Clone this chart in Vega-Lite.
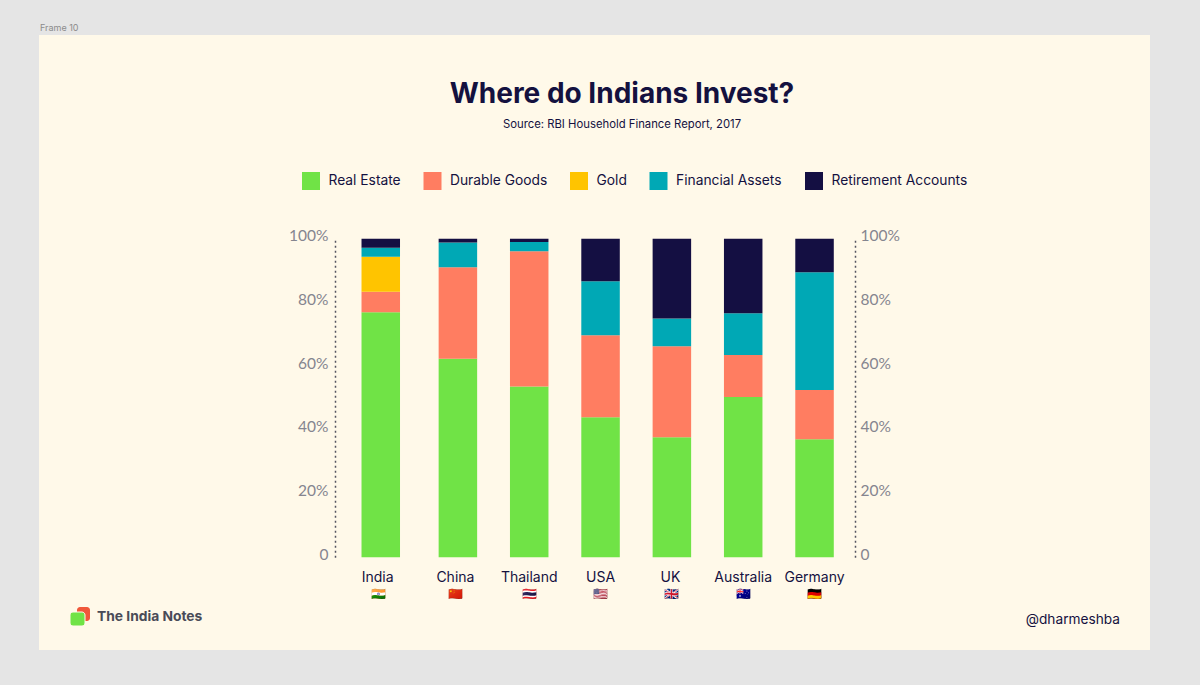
{
  "$schema": "https://vega.github.io/schema/vega-lite/v6.json",
  "width": 1111,
  "height": 615,
  "autosize": "none",
  "padding": {"left": 39, "top": 35, "right": 50, "bottom": 35},
  "background": "#e5e5e5",
  "view": {"fill": "#fff9e9", "stroke": null},
  "title": {
    "text": "Where do Indians Invest?",
    "subtitle": "Source: RBI Household Finance Report, 2017",
    "frame": "group",
    "anchor": "middle",
    "dx": 27.5,
    "offset": -106,
    "font": "Inter",
    "fontSize": 28,
    "fontWeight": 700,
    "color": "#14113f",
    "subtitleFont": "Inter",
    "subtitleFontSize": 11.3,
    "subtitleColor": "#14113f",
    "subtitlePadding": 10
  },
  "datasets": {
    "holdings": [
      {"country": "India", "asset": "Real Estate", "rank": 1, "share": 76.9},
      {"country": "India", "asset": "Durable Goods", "rank": 2, "share": 6.5},
      {"country": "India", "asset": "Gold", "rank": 3, "share": 11},
      {"country": "India", "asset": "Financial Assets", "rank": 4, "share": 2.8},
      {"country": "India", "asset": "Retirement Accounts", "rank": 5, "share": 2.8},
      {"country": "China", "asset": "Real Estate", "rank": 1, "share": 62.3},
      {"country": "China", "asset": "Durable Goods", "rank": 2, "share": 28.8},
      {"country": "China", "asset": "Financial Assets", "rank": 4, "share": 7.7},
      {"country": "China", "asset": "Retirement Accounts", "rank": 5, "share": 1.2},
      {"country": "Thailand", "asset": "Real Estate", "rank": 1, "share": 53.6},
      {"country": "Thailand", "asset": "Durable Goods", "rank": 2, "share": 42.5},
      {"country": "Thailand", "asset": "Financial Assets", "rank": 4, "share": 2.9},
      {"country": "Thailand", "asset": "Retirement Accounts", "rank": 5, "share": 1},
      {"country": "USA", "asset": "Real Estate", "rank": 1, "share": 44},
      {"country": "USA", "asset": "Durable Goods", "rank": 2, "share": 25.7},
      {"country": "USA", "asset": "Financial Assets", "rank": 4, "share": 17},
      {"country": "USA", "asset": "Retirement Accounts", "rank": 5, "share": 13.3},
      {"country": "UK", "asset": "Real Estate", "rank": 1, "share": 37.7},
      {"country": "UK", "asset": "Durable Goods", "rank": 2, "share": 28.6},
      {"country": "UK", "asset": "Financial Assets", "rank": 4, "share": 8.7},
      {"country": "UK", "asset": "Retirement Accounts", "rank": 5, "share": 25},
      {"country": "Australia", "asset": "Real Estate", "rank": 1, "share": 50.3},
      {"country": "Australia", "asset": "Durable Goods", "rank": 2, "share": 13.2},
      {"country": "Australia", "asset": "Financial Assets", "rank": 4, "share": 13.1},
      {"country": "Australia", "asset": "Retirement Accounts", "rank": 5, "share": 23.4},
      {"country": "Germany", "asset": "Real Estate", "rank": 1, "share": 37.1},
      {"country": "Germany", "asset": "Durable Goods", "rank": 2, "share": 15.4},
      {"country": "Germany", "asset": "Financial Assets", "rank": 4, "share": 37},
      {"country": "Germany", "asset": "Retirement Accounts", "rank": 5, "share": 10.5}
    ],
    "flags": [
      {"country": "India", "flag": "🇮🇳"},
      {"country": "China", "flag": "🇨🇳"},
      {"country": "Thailand", "flag": "🇹🇭"},
      {"country": "USA", "flag": "🇺🇸"},
      {"country": "UK", "flag": "🇬🇧"},
      {"country": "Australia", "flag": "🇦🇺"},
      {"country": "Germany", "flag": "🇩🇪"}
    ]
  },
  "layer": [
    {
      "data": {"name": "holdings"},
      "mark": {
        "type": "bar",
        "width": 38.5,
        "xOffset": {"expr": "datum.country === 'India' ? -5.8 : 0"}
      },
      "encoding": {
        "x": {
          "field": "country",
          "type": "nominal",
          "sort": null,
          "scale": {
            "domain": ["India", "China", "Thailand", "USA", "UK", "Australia", "Germany"],
            "range": [311.9, 811.2],
            "padding": 0
          },
          "axis": {
            "title": null,
            "orient": "bottom",
            "offset": -93,
            "domain": false,
            "ticks": false,
            "labelAngle": 0,
            "labelPadding": 13,
            "labelFont": "Inter",
            "labelFontSize": 14,
            "labelColor": "#14113f",
            "labelOffset": {
              "condition": [
                {"test": "datum.value === 'India'", "value": -9},
                {"test": "datum.value === 'China'", "value": -2.5},
                {"test": "datum.value === 'UK'", "value": -1.5}
              ],
              "value": 0
            }
          }
        },
        "y": {
          "field": "share",
          "type": "quantitative",
          "stack": "zero",
          "scale": {"domain": [0, 100], "range": [522.3, 203.8], "nice": false},
          "axis": {
            "title": null,
            "orient": "left",
            "offset": -296,
            "values": [0, 20, 40, 60, 80, 100],
            "labelExpr": "datum.value === 0 ? '0' : datum.value + '%'",
            "grid": false,
            "ticks": false,
            "domainColor": "#555560",
            "domainWidth": 1.5,
            "domainDash": [2, 3],
            "labelOffset": -3,
            "labelPadding": 7,
            "labelFont": "Lato",
            "labelFontSize": 15.5,
            "labelColor": "#85858f"
          }
        },
        "order": {"field": "rank", "type": "quantitative"},
        "color": {
          "field": "asset",
          "type": "nominal",
          "scale": {
            "domain": ["Real Estate", "Durable Goods", "Gold", "Financial Assets", "Retirement Accounts"],
            "range": ["#70e346", "#ff7d61", "#ffc400", "#00a8b5", "#140f42"]
          },
          "legend": {
            "title": null,
            "orient": "none",
            "direction": "horizontal",
            "legendX": 263,
            "legendY": 137,
            "symbolType": "square",
            "symbolSize": 324,
            "symbolStrokeWidth": 0,
            "symbolOpacity": 1,
            "labelFont": "Inter",
            "labelFontSize": 13.8,
            "labelColor": "#14113f",
            "labelOffset": 8.5,
            "columnPadding": 22.5
          }
        }
      }
    },
    {
      "data": {"name": "flags"},
      "mark": {
        "type": "text",
        "fontSize": 12,
        "baseline": "middle",
        "xOffset": {"expr": "datum.country === 'India' ? -8 : datum.country === 'China' ? -2 : 0"}
      },
      "encoding": {
        "x": {"field": "country", "type": "nominal", "sort": null},
        "y": {
          "datum": -11.5,
          "type": "quantitative",
          "scale": {"domain": [0, 100], "range": [522.3, 203.8], "nice": false},
          "axis": {
            "title": null,
            "orient": "right",
            "offset": -295,
            "values": [0, 20, 40, 60, 80, 100],
            "labelExpr": "datum.value === 0 ? '0' : datum.value + '%'",
            "grid": false,
            "ticks": false,
            "domainColor": "#555560",
            "domainWidth": 1.5,
            "domainDash": [2, 3],
            "labelOffset": -3,
            "labelPadding": 5,
            "labelFont": "Lato",
            "labelFontSize": 15.5,
            "labelColor": "#85858f"
          }
        },
        "text": {"field": "flag"}
      }
    },
    {
      "data": {"values": [{"label": "Frame 10"}]},
      "mark": {"type": "text", "align": "left", "baseline": "middle", "font": "Inter", "fontSize": 9, "color": "#8c8c8c", "clip": false},
      "encoding": {"x": {"value": 1}, "y": {"value": -7}, "text": {"field": "label"}}
    },
    {
      "data": {"values": [{"label": "The India Notes"}]},
      "mark": {"type": "text", "align": "left", "baseline": "middle", "font": "Inter", "fontSize": 13.8, "fontWeight": 700, "color": "#494b57"},
      "encoding": {"x": {"value": 58}, "y": {"value": 582}, "text": {"field": "label"}}
    },
    {
      "data": {"values": [{"label": "@dharmeshba"}]},
      "mark": {"type": "text", "align": "right", "baseline": "middle", "font": "Inter", "fontSize": 13.7, "color": "#14113f"},
      "encoding": {"x": {"value": 1081}, "y": {"value": 585}, "text": {"field": "label"}}
    },
    {
      "data": {"values": [{"part": "logo back"}]},
      "mark": {"type": "rect", "color": "#f0583a", "cornerRadius": 3},
      "encoding": {"x": {"value": 38}, "x2": {"value": 51}, "y": {"value": 572}, "y2": {"value": 586}}
    },
    {
      "data": {"values": [{"part": "logo front"}]},
      "mark": {"type": "rect", "color": "#70e346", "cornerRadius": 3, "stroke": "#fff9e9", "strokeWidth": 1},
      "encoding": {"x": {"value": 31}, "x2": {"value": 46}, "y": {"value": 577}, "y2": {"value": 591}}
    }
  ],
  "resolve": {"scale": {"y": "independent"}, "axis": {"y": "independent"}}
}
